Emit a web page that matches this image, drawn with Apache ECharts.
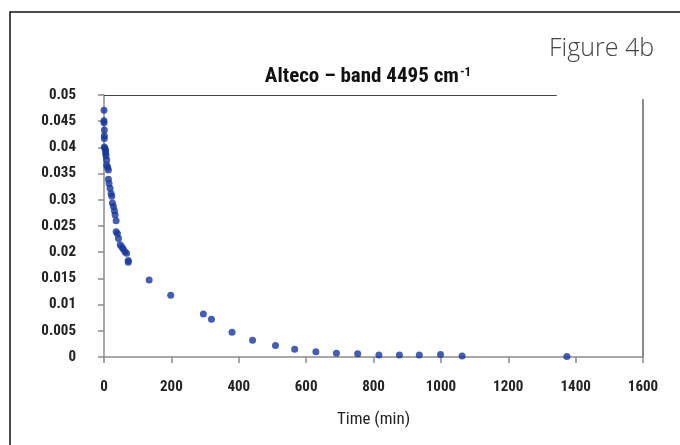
<!DOCTYPE html>
<html>
<head>
<meta charset="utf-8">
<script src="https://cdn.jsdelivr.net/npm/echarts@6/dist/echarts.min.js"></script>
<style>
  html, body { margin: 0; padding: 0; background: #fff; }
  #chart { width: 680px; height: 445px; }
</style>
</head>
<body>
<div id="chart"></div>
<script>
// measured points (time in min, absorbance at 4495 cm-1)
const timeMin = [
  0, 0, 0, 1, 1, 1, 1, 3, 5, 5, 6, 8, 8, 11, 13, 13, 15, 18, 21, 23,
  25, 28, 31, 33, 36, 36, 40, 43, 48, 53, 57, 62, 67, 72, 72,
  134, 198, 295, 319, 380, 441, 509, 566, 629, 690, 753, 816, 877, 936, 999, 1063, 1374
];
const absorbance = [
  0.0471, 0.0451, 0.0447, 0.0433, 0.0422, 0.0417, 0.0401, 0.0398, 0.0394, 0.0389,
  0.0384, 0.0376, 0.0366, 0.0362, 0.0357, 0.0339, 0.0331, 0.0322, 0.0312, 0.0307,
  0.0294, 0.0287, 0.0279, 0.0271, 0.0260, 0.0239, 0.0235, 0.0226, 0.0214, 0.0210,
  0.0206, 0.0201, 0.0198, 0.0184, 0.0181,
  0.0147, 0.0118, 0.0082, 0.0072, 0.0047, 0.0032, 0.0022, 0.0015, 0.0010, 0.0007,
  0.0006, 0.0004, 0.0004, 0.0004, 0.0005, 0.0002, 0.0001
];

const xMin = 0, xMax = 1600, xStep = 200;
const yMin = 0, yMax = 0.05, yStep = 0.005;
// the plot frame in the figure is open: top edge stops short, right edge starts a bit low
const topEdgeEnd = 1344;
const rightEdgeTop = 0.0492;

const labelFont = "'Roboto Condensed', 'Roboto', sans-serif";

const chart = echarts.init(document.getElementById('chart'));

chart.setOption({
  backgroundColor: '#fff',
  animation: false,
  title: {
    text: 'Alteco – band 4495 cm{sup|-1}',
    left: 363,
    top: 61,
    textAlign: 'center',
    textStyle: {
      fontFamily: labelFont,
      fontWeight: 'bold',
      fontSize: 21,
      color: '#111',
      rich: {
        sup: {
          fontFamily: labelFont,
          fontWeight: 'bold',
          fontSize: 13,
          color: '#111',
          verticalAlign: 'top',
          padding: [0, 0, 9, 1]
        }
      }
    }
  },
  graphic: [
    {
      type: 'rect',
      shape: { x: 10, y: 12, width: 700, height: 500 },
      style: { fill: 'none', stroke: '#111', lineWidth: 1.5 },
      silent: true
    },
    {
      type: 'text',
      left: 549,
      top: 36,
      style: {
        text: 'Figure 4b',
        fontFamily: "'Open Sans', 'Lato', sans-serif",
        fontWeight: 300,
        fontSize: 25,
        fill: '#444'
      }
    }
  ],
  grid: {
    left: 104,
    right: 37,
    top: 95,
    bottom: 88
  },
  xAxis: {
    type: 'value',
    min: xMin,
    max: xMax,
    interval: xStep,
    name: 'Time (min)',
    nameLocation: 'middle',
    nameGap: 54,
    nameTextStyle: {
      fontFamily: labelFont,
      fontSize: 17,
      color: '#222'
    },
    axisLine: { show: true, lineStyle: { color: '#8a8a8a', width: 1.5 } },
    axisTick: { show: true, length: 6, lineStyle: { color: '#8a8a8a', width: 1.5 } },
    axisLabel: {
      margin: 23,
      fontFamily: labelFont,
      fontWeight: 'bold',
      fontSize: 15,
      color: '#222',
      formatter: v => String(v)
    },
    splitLine: { show: false }
  },
  yAxis: {
    type: 'value',
    min: yMin,
    max: yMax,
    interval: yStep,
    axisLine: { show: true, lineStyle: { color: '#8a8a8a', width: 1.5 } },
    axisTick: { show: true, length: 6, lineStyle: { color: '#8a8a8a', width: 1.5 } },
    axisLabel: {
      margin: 28,
      fontFamily: labelFont,
      fontWeight: 'bold',
      fontSize: 15,
      color: '#222'
    },
    splitLine: { show: false }
  },
  series: [
    {
      name: 'Alteco',
      type: 'scatter',
      symbol: 'circle',
      symbolSize: 7,
      itemStyle: { color: '#17369a' },
      data: timeMin.map((t, i) => [t, absorbance[i]]),
      markLine: {
        silent: true,
        symbol: ['none', 'none'],
        label: { show: false },
        emphasis: { disabled: true },
        data: [
          [
            { coord: [xMin, yMax], lineStyle: { color: '#444', width: 1.2, type: 'solid' } },
            { coord: [topEdgeEnd, yMax] }
          ],
          [
            { coord: [xMax, yMin], lineStyle: { color: '#8a8a8a', width: 2, type: 'solid' } },
            { coord: [xMax, rightEdgeTop] }
          ]
        ]
      }
    }
  ]
});
</script>
</body>
</html>
